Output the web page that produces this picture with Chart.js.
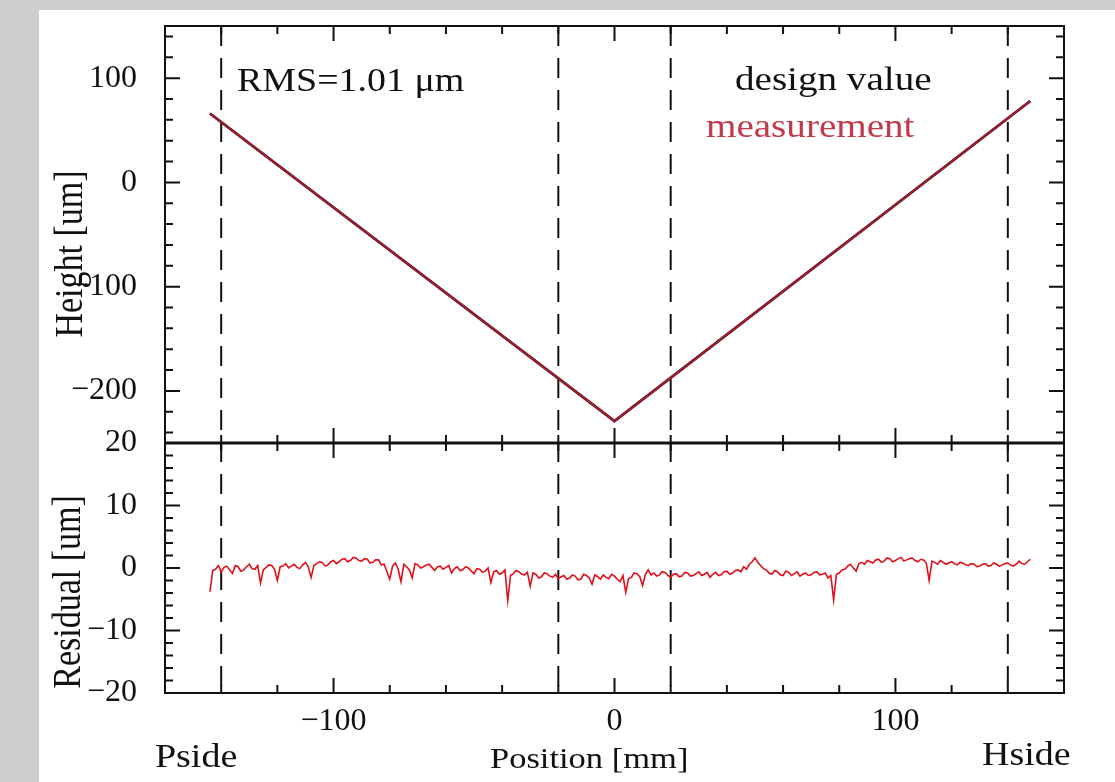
<!DOCTYPE html>
<html>
<head>
<meta charset="utf-8">
<script src="https://cdn.jsdelivr.net/npm/chart.js@4.4.0/dist/chart.umd.min.js"></script>
<style>
  html, body { margin: 0; padding: 0; }
  body { width: 1115px; height: 782px; background: #cecece; overflow: hidden; position: relative; }
  #panel { position: absolute; left: 39px; top: 10px; width: 1076px; height: 772px; background: #fff; }
  canvas { display: block; }
</style>
</head>
<body>
<div id="panel"><canvas id="ch" width="1076" height="772"></canvas></div>
<script>
// height profile + residual, Pside -> Hside
var designX = [-144, 0, 148];
var designY = [66, -229, 78];
var measX = [-144, 0, 148];
var measY = [66, -229, 78];

var resX = [-144,-143,-142,-141,-140,-139,-138,-137,-136,-135,
  -134,-133,-132,-131,-130,-129,-128,-127,-126,-125,
  -124,-123,-122,-121,-120,-119,-118,-117,-116,-115,
  -114,-113,-112,-111,-110,-109,-108,-107,-106,-105,
  -104,-103,-102,-101,-100,-99,-98,-97,-96,-95,
  -94,-93,-92,-91,-90,-89,-88,-87,-86,-85,
  -84,-83,-82,-81,-80,-79,-78,-77,-76,-75,
  -74,-73,-72,-71,-70,-69,-68,-67,-66,-65,
  -64,-63,-62,-61,-60,-59,-58,-57,-56,-55,
  -54,-53,-52,-51,-50,-49,-48,-47,-46,-45,
  -44,-43,-42,-41,-40,-39,-38,-37,-36,-35,
  -34,-33,-32,-31,-30,-29,-28,-27,-26,-25,
  -24,-23,-22,-21,-20,-19,-18,-17,-16,-15,
  -14,-13,-12,-11,-10,-9,-8,-7,-6,-5,
  -4,-3,-2,-1,0,1,2,3,4,5,
  6,7,8,9,10,11,12,13,14,15,
  16,17,18,19,20,21,22,23,24,25,
  26,27,28,29,30,31,32,33,34,35,
  36,37,38,39,40,41,42,43,44,45,
  46,47,48,49,50,51,52,53,54,55,
  56,57,58,59,60,61,62,63,64,65,
  66,67,68,69,70,71,72,73,74,75,
  76,77,78,79,80,81,82,83,84,85,
  86,87,88,89,90,91,92,93,94,95,
  96,97,98,99,100,101,102,103,104,105,
  106,107,108,109,110,111,112,113,114,115,
  116,117,118,119,120,121,122,123,124,125,
  126,127,128,129,130,131,132,133,134,135,
  136,137,138,139,140,141,142,143,144,145,
  146,147,148];
var resY = [-3.8,-0.4,-0.2,0.4,-0.6,0.1,0.3,-0.3,-0.9,0.4,
  0.2,-0.5,-0.3,0.2,0.6,-0.1,-0.2,0.4,-2.4,-0.3,
  0.1,0.5,0.4,-0.2,-2.0,0.2,0.3,0.7,0.0,0.3,
  0.6,0.1,-0.1,0.5,0.9,0.2,-1.5,0.4,0.7,1.0,
  0.9,0.3,0.5,1.0,1.2,0.7,1.0,1.4,1.5,1.0,
  1.2,1.7,1.6,1.2,1.1,1.5,1.4,0.8,0.9,1.3,
  1.3,0.5,0.6,-0.6,-1.8,0.3,0.8,-0.2,-2.2,0.6,
  0.2,-0.3,-1.6,0.7,0.5,0.0,0.2,0.5,0.6,0.1,
  -0.4,0.2,0.3,-0.2,0.1,0.4,-0.8,-0.1,0.2,-0.4,
  -0.3,0.2,0.0,-0.5,-0.9,-0.1,-0.2,-0.7,-0.5,0.0,
  -2.3,-0.6,-0.4,-1.0,-0.8,-0.3,-5.2,-1.2,-0.9,-0.4,
  -0.6,-1.0,-1.1,-0.7,-2.9,-0.8,-1.0,-1.6,-1.4,-0.8,
  -0.9,-1.3,-1.5,-1.0,-1.7,-1.4,-1.2,-1.8,-1.6,-1.1,
  -1.3,-1.9,-1.8,-1.0,-1.2,-1.6,-2.6,-1.1,-1.4,-1.8,
  -1.1,-1.5,-1.7,-1.0,-1.3,-1.8,-2.2,-1.2,-3.9,-1.7,
  -1.5,-0.8,-0.9,-1.4,-2.8,-1.0,-0.3,-1.1,-0.8,-1.3,
  -1.1,-0.6,-0.7,-1.2,-1.5,-1.0,-0.9,-1.4,-1.3,-0.7,
  -0.8,-1.3,-1.2,-0.9,-0.6,-1.2,-1.0,-0.7,-1.5,-1.0,
  -0.7,-1.2,-1.1,-0.6,-0.5,-1.0,-0.8,-0.4,-0.3,-0.6,
  0.2,-0.2,0.6,1.0,1.6,0.9,0.4,-0.1,-0.3,-0.8,
  -1.0,-0.4,-0.6,-1.1,-1.2,-0.5,-0.7,-1.2,-0.9,-0.6,
  -1.3,-1.0,-0.8,-1.2,-1.1,-0.7,-0.6,-1.1,-1.0,-0.8,
  -1.6,-1.2,-5.1,-1.0,-0.8,-0.3,-0.2,0.3,0.6,0.0,
  -0.5,0.7,0.9,0.6,1.2,1.0,0.8,1.3,1.4,0.9,
  1.1,1.6,1.5,1.0,1.2,1.5,1.7,1.1,1.3,1.5,
  1.6,1.2,1.0,1.4,1.3,0.8,-2.0,1.1,0.9,0.6,
  1.2,0.9,0.6,0.8,1.0,0.7,0.5,0.9,0.8,0.5,
  0.4,0.7,0.6,0.2,0.3,0.6,0.7,0.3,0.4,0.8,
  0.6,0.3,0.5,0.7,0.8,0.5,0.3,0.6,1.1,0.7,
  0.6,1.0,1.4];

var xTicks = [-100, 0, 100];
var heightTicks = [-200, -100, 0, 100];
var residualTicks = [-20, -10, 0, 10, 20];
var dashX = [-140, -20, 20, 140];

var serif = 'Liberation Serif';

function pts(xs, ys) {
  return xs.map(function (x, i) { return { x: x, y: ys[i] }; });
}
function minus(v) { return String(v).replace('-', '\u2212'); }

// draws text slightly stretched sideways like the original
function txt(ctx, s, x, y, size, color, align, rot) {
  ctx.save();
  ctx.translate(x, y);
  ctx.scale(1.15, 1);
  if (rot) ctx.rotate(rot);
  ctx.font = size + 'px "' + serif + '"';
  ctx.fillStyle = color;
  ctx.textAlign = align || 'left';
  ctx.textBaseline = rot ? 'middle' : 'alphabetic';
  ctx.fillText(s, 0, 0);
  ctx.restore();
}

var framePlugin = {
  id: 'frame',
  beforeDatasetsDraw: function (chart) {
    var ctx = chart.ctx, x = chart.scales.x, a = chart.chartArea;
    ctx.save();
    ctx.strokeStyle = '#111';
    ctx.lineWidth = 2;
    ctx.setLineDash([20, 12]);
    dashX.forEach(function (v) {
      var px = x.getPixelForValue(v);
      ctx.beginPath();
      ctx.moveTo(px, a.top);
      ctx.lineTo(px, a.bottom);
      ctx.stroke();
    });
    ctx.restore();
  },
  afterDatasetsDraw: function (chart) {
    var ctx = chart.ctx, x = chart.scales.x;
    var panels = [
      { s: chart.scales.yH, from: -240, to: 140, step: 20, major: heightTicks },
      { s: chart.scales.yRes, from: -20, to: 20, step: 2, major: residualTicks }
    ];
    ctx.save();
    ctx.strokeStyle = '#111';
    ctx.lineWidth = 2;
    panels.forEach(function (p) {
      var top = p.s.top, bot = p.s.bottom, l = x.left, r = x.right;
      ctx.strokeRect(l, top, r - l, bot - top);
      ctx.beginPath();
      for (var v = -140; v <= 140; v += 20) {
        var px = x.getPixelForValue(v);
        var len = xTicks.indexOf(v) >= 0 ? 15 : 8;
        ctx.moveTo(px, top); ctx.lineTo(px, top + len);
        ctx.moveTo(px, bot); ctx.lineTo(px, bot - len);
      }
      for (var w = p.from; w <= p.to + 1e-9; w += p.step) {
        var py = p.s.getPixelForValue(w);
        var ln = p.major.indexOf(Math.round(w)) >= 0 ? 15 : 8;
        ctx.moveTo(l, py); ctx.lineTo(l + ln, py);
        ctx.moveTo(r, py); ctx.lineTo(r - ln, py);
      }
      ctx.stroke();
    });
    // the shared edge between the two pads looks heavier
    var mid = chart.scales.yRes.top;
    ctx.lineWidth = 3;
    ctx.beginPath();
    ctx.moveTo(x.left, mid); ctx.lineTo(x.right, mid);
    ctx.stroke();
    ctx.restore();

    txt(ctx, 'RMS=1.01 \u03bcm', 198, 81, 33, '#111');
    txt(ctx, 'design value', 696, 80, 34, '#111');
    txt(ctx, 'measurement', 667, 127, 34, '#c23a4a');
    txt(ctx, 'Pside', 116, 757, 33, '#111');
    txt(ctx, 'Hside', 943, 755, 33, '#111');
    txt(ctx, 'Position [mm]', 451, 758, 30, '#111');
    txt(ctx, 'Height [um]', 33, 244, 34, '#111', 'center', -Math.PI / 2);
    txt(ctx, 'Residual [um]', 31, 582, 34, '#111', 'center', -Math.PI / 2);
  }
};

function yAxis(min, max, ticks, weight) {
  return {
    type: 'linear', position: 'left', stack: 'v', stackWeight: weight,
    min: min, max: max,
    grid: { display: false, drawTicks: false },
    border: { display: false },
    afterBuildTicks: function (s) { s.ticks = ticks.map(function (v) { return { value: v }; }); },
    afterFit: function (s) { s.width = 126; s.paddingTop = 0; s.paddingBottom = 0; },
    ticks: {
      padding: 28, color: '#111', autoSkip: false,
      font: { family: serif, size: 32 },
      callback: minus
    }
  };
}

new Chart(document.getElementById('ch').getContext('2d'), {
  type: 'line',
  data: {
    datasets: [
      // order 0 is painted last, so the measurement sits on top of the design line
      { label: 'measurement', data: pts(measX, measY), yAxisID: 'yH', order: 0,
        borderColor: '#951e30', borderWidth: 2.5, pointRadius: 0 },
      { label: 'design value', data: pts(designX, designY), yAxisID: 'yH', order: 1,
        borderColor: '#111', borderWidth: 2.5, pointRadius: 0 },
      { label: 'residual', data: pts(resX, resY), yAxisID: 'yRes', order: 2,
        borderColor: '#e0101a', borderWidth: 1.6, pointRadius: 0 }
    ]
  },
  options: {
    responsive: false,
    animation: false,
    layout: { padding: { top: 16, right: 51, left: 0, bottom: 0 } },
    plugins: { legend: { display: false }, tooltip: { enabled: false } },
    scales: {
      x: {
        type: 'linear', min: -160, max: 160,
        grid: { display: false, drawTicks: false },
        border: { display: false },
        afterBuildTicks: function (s) { s.ticks = xTicks.map(function (v) { return { value: v }; }); },
        afterFit: function (s) { s.height = 89; s.paddingLeft = 0; s.paddingRight = 0; },
        ticks: { padding: 9, color: '#111', autoSkip: false, font: { family: serif, size: 32 }, callback: minus, maxRotation: 0 }
      },
      yRes: yAxis(-20, 20, residualTicks, 250),
      yH: yAxis(-250, 150, heightTicks, 417)
    }
  },
  plugins: [framePlugin]
});
</script>
</body>
</html>
